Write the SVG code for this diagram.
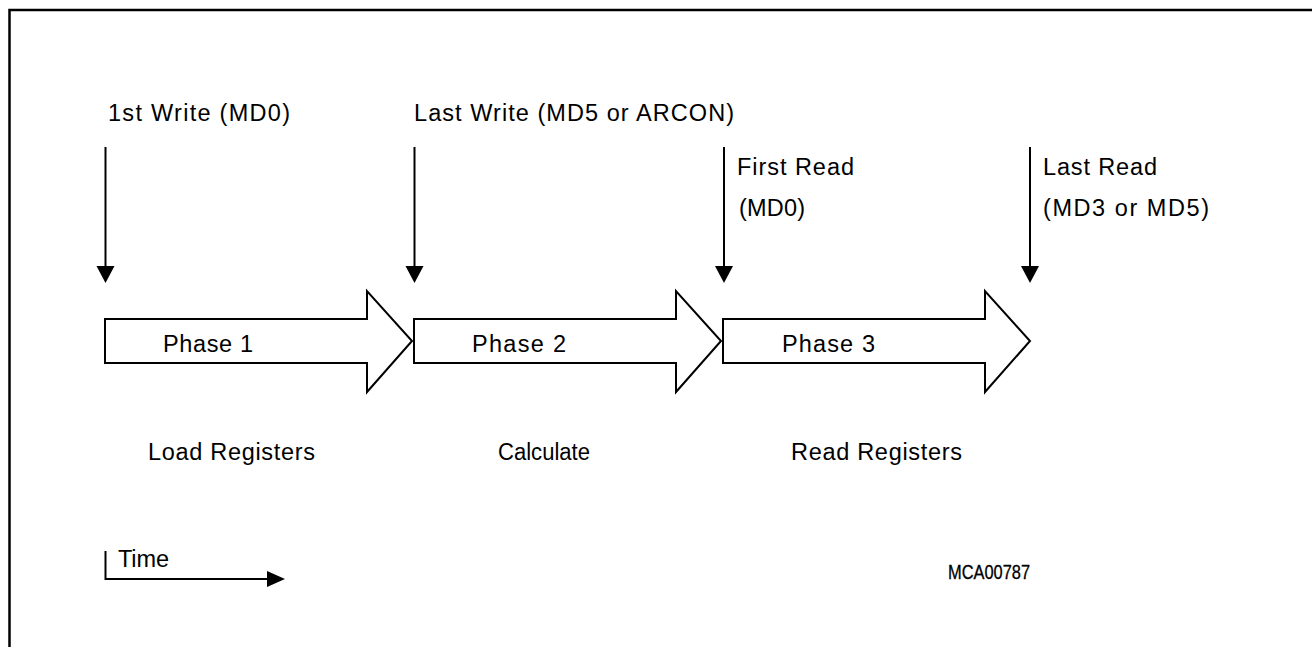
<svg xmlns="http://www.w3.org/2000/svg" width="1313" height="647" viewBox="0 0 1313 647">
<style>
.t{font-family:"Liberation Sans",Arial,sans-serif;font-size:23.5px;fill:#000}
.s{font-family:"Liberation Sans",Arial,sans-serif;font-size:19.5px;fill:#000;stroke:#000;stroke-width:0.3}
.ph{fill:#fff;stroke:#000;stroke-width:2;stroke-linejoin:miter}
.ln{stroke:#000;stroke-width:2;fill:none}
.hd{fill:#000}
</style>
<rect width="1313" height="647" fill="#fff"/>
<path d="M9.5 660 V10 H1312" fill="none" stroke="#000" stroke-width="2.5"/>

<g id="phase1">
<polygon class="ph" points="105,319 367,319 367,291 412,341 367,392 367,363 105,363"/>
<text class="t" x="163" y="352" textLength="90" lengthAdjust="spacing">Phase 1</text>
<text class="t" x="148" y="460" textLength="167" lengthAdjust="spacing">Load Registers</text>
</g>
<g id="phase2">
<polygon class="ph" points="414,319 676,319 676,291 721,341 676,392 676,363 414,363"/>
<text class="t" x="472" y="352" textLength="94" lengthAdjust="spacing">Phase 2</text>
<text class="t" x="498" y="460" textLength="92" lengthAdjust="spacingAndGlyphs">Calculate</text>
</g>
<g id="phase3">
<polygon class="ph" points="723,319 985,319 985,291 1030,341 985,392 985,363 723,363"/>
<text class="t" x="782" y="352" textLength="93" lengthAdjust="spacing">Phase 3</text>
<text class="t" x="791" y="460" textLength="171" lengthAdjust="spacing">Read Registers</text>
</g>

<g id="labels">
<text class="t" x="108" y="121" textLength="182" lengthAdjust="spacing">1st Write (MD0)</text>
<text class="t" x="414" y="121" textLength="320" lengthAdjust="spacing">Last Write (MD5 or ARCON)</text>
<text class="t" x="737" y="175" textLength="117" lengthAdjust="spacing">First Read</text>
<text class="t" x="739" y="216" textLength="66" lengthAdjust="spacing">(MD0)</text>
<text class="t" x="1043" y="175" textLength="114" lengthAdjust="spacing">Last Read</text>
<text class="t" x="1043" y="216" textLength="166" lengthAdjust="spacing">(MD3 or MD5)</text>
<text class="t" x="118" y="567" textLength="51" lengthAdjust="spacing">Time</text>
<text class="s" x="948" y="579" textLength="82" lengthAdjust="spacingAndGlyphs">MCA00787</text>
</g>

<g id="connectors">
<line class="ln" x1="105.5" y1="147" x2="105.5" y2="268"/>
<polygon class="hd" points="96.5,266 114.5,266 105.5,283"/>
<line class="ln" x1="414.5" y1="147" x2="414.5" y2="268"/>
<polygon class="hd" points="405.5,266 423.5,266 414.5,283"/>
<line class="ln" x1="724" y1="147" x2="724" y2="268"/>
<polygon class="hd" points="715,266 733,266 724,283"/>
<line class="ln" x1="1030" y1="147" x2="1030" y2="268"/>
<polygon class="hd" points="1021,266 1039,266 1030,283"/>
<polyline class="ln" points="105.5,551 105.5,579 268,579"/>
<polygon class="hd" points="267,571 267,587 285,579"/>
</g>
</svg>
